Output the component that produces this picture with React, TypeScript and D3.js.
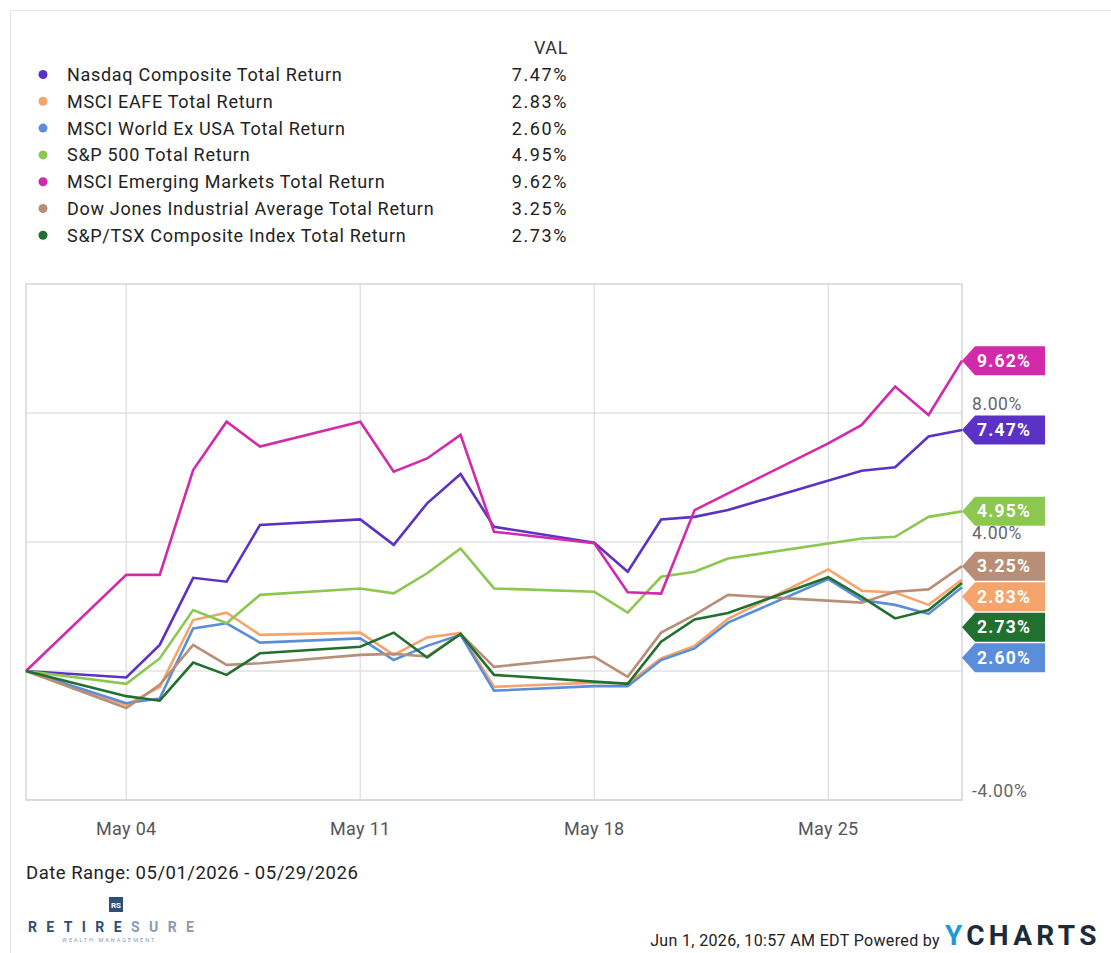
import React from "react";
import * as d3 from "d3";

const dates = [
  "2026-05-01", "2026-05-04", "2026-05-05", "2026-05-06", "2026-05-07", "2026-05-08",
  "2026-05-11", "2026-05-12", "2026-05-13", "2026-05-14", "2026-05-15",
  "2026-05-18", "2026-05-19", "2026-05-20", "2026-05-21", "2026-05-22",
  "2026-05-25", "2026-05-26", "2026-05-27", "2026-05-28", "2026-05-29",
];

const seriesNames = [
  "Nasdaq Composite Total Return",
  "MSCI EAFE Total Return",
  "MSCI World Ex USA Total Return",
  "S&P 500 Total Return",
  "MSCI Emerging Markets Total Return",
  "Dow Jones Industrial Average Total Return",
  "S&P/TSX Composite Index Total Return",
];

const seriesColors = ["#5b31c6", "#f5a46c", "#5a8edb", "#8cc74f", "#d22aab", "#b88f76", "#21702f"];

// null = no trading that day (holiday), line is drawn straight across
const nasdaq = [0, -0.2, 0.81, 2.89, 2.77, 4.53, 4.7, 3.91, 5.2, 6.11, 4.47, 3.98, 3.08, 4.7, 4.78, 4.99, null, 6.21, 6.32, 7.27, 7.47];
const eafe = [0, -1.05, -0.5, 1.58, 1.81, 1.12, 1.19, 0.5, 1.04, 1.18, -0.49, -0.36, -0.38, 0.39, 0.78, 1.62, 3.15, 2.49, 2.43, 2.05, 2.83];
const worldExUsa = [0, -1.0, -0.85, 1.32, 1.48, 0.88, 1.01, 0.34, 0.78, 1.12, -0.61, -0.47, -0.47, 0.34, 0.7, 1.5, 2.85, 2.2, 2.05, 1.77, 2.6];
const sp500 = [0, -0.4, 0.39, 1.89, 1.48, 2.36, 2.56, 2.41, 3.03, 3.8, 2.56, 2.46, 1.81, 2.92, 3.08, 3.49, null, 4.11, 4.16, 4.78, 4.95];
const emerging = [0, 2.98, 2.98, 6.23, 7.73, 6.96, 7.73, 6.18, 6.59, 7.32, 4.32, 3.96, 2.44, 2.4, 4.99, 5.51, 7.06, 7.63, 8.82, 7.94, 9.62];
const dow = [0, -1.15, -0.43, 0.81, 0.19, 0.24, 0.5, 0.53, 0.45, 1.15, 0.13, 0.44, -0.18, 1.19, 1.74, 2.36, null, 2.12, 2.46, 2.53, 3.25];
const tsx = [0, -0.78, -0.92, 0.26, -0.12, 0.55, 0.75, 1.19, 0.42, 1.15, -0.12, null, -0.4, 0.91, 1.6, 1.8, 2.91, 2.3, 1.63, 1.89, 2.73];

const seriesValues = [nasdaq, eafe, worldExUsa, sp500, emerging, dow, tsx];

const yGrid = [-4, 0, 4, 8];
const yLabels = [-4, 4, 8]; // 0.00% sits under the 2.60% tag in the original
const xTicks = ["2026-05-04", "2026-05-11", "2026-05-18", "2026-05-25"];

const FONT = "Roboto, 'Noto Sans', sans-serif";

export default function App() {
  const W = 1111;
  const H = 953;
  const left = 26, right = 962, top = 284, bottom = 800;
  const parse = d3.utcParse("%Y-%m-%d");
  const x = d3.scaleUtc()
    .domain([parse(dates[0])!, parse(dates[dates.length - 1])!])
    .range([left, right]);
  const y = d3.scaleLinear().domain([-4, 12]).range([bottom, top]);
  const fmtX = d3.utcFormat("%b %d");
  const fmtPct = (v: number) => v.toFixed(2) + "%";

  const line = d3.line<[Date, number]>().x(d => x(d[0])).y(d => y(d[1]));

  const series = seriesNames.map((name, i) => {
    const vals = seriesValues[i];
    const pts = dates
      .map((d, j) => [parse(d)!, vals[j]] as [Date, number | null])
      .filter(p => p[1] != null) as [Date, number][];
    return { name, color: seriesColors[i], pts, last: pts[pts.length - 1][1] };
  });

  // end-of-line tags, pushed down so they do not overlap
  const tagH = 29;
  const order = series.map((s, i) => i).sort((a, b) => series[b].last - series[a].last);
  const tagY: number[] = [];
  let prev = -Infinity;
  order.forEach(i => {
    const want = y(series[i].last);
    const cy = Math.max(want, prev + tagH + 1.5);
    tagY[i] = cy;
    prev = cy;
  });

  const rowY = (i: number) => 75 + i * 26.8;

  return (
    <svg width={W} height={H} style={{ position: "absolute", left: 0, top: 0, background: "#fff" }} fontFamily={FONT}>
      {/* page border */}
      <line x1={10} y1={10.5} x2={W} y2={10.5} stroke="#e4e4e4" />
      <line x1={10.5} y1={10} x2={10.5} y2={H} stroke="#e4e4e4" />

      {/* legend */}
      <text x={568} y={54} textAnchor="end" fontSize={18} fill="#333" letterSpacing={0.6}>VAL</text>
      {series.map((s, i) => (
        <g key={s.name}>
          <circle cx={43} cy={rowY(i) - 0.5} r={4.5} fill={s.color} />
          <text x={67} y={rowY(i) + 6} fontSize={18} fill="#222" letterSpacing={0.7}>{s.name}</text>
          <text x={568} y={rowY(i) + 6} fontSize={18} fill="#222" textAnchor="end" letterSpacing={1.6}>{fmtPct(s.last)}</text>
        </g>
      ))}

      {/* grid */}
      {yGrid.map(t => (
        <line key={"gy" + t} x1={left} x2={right} y1={y(t)} y2={y(t)} stroke="#e2e2e2" strokeWidth={1.5} />
      ))}
      {xTicks.map(t => (
        <line key={"gx" + t} x1={x(parse(t)!)} x2={x(parse(t)!)} y1={top} y2={bottom} stroke="#e2e2e2" strokeWidth={1.5} />
      ))}
      <rect x={left} y={top} width={right - left} height={bottom - top} fill="none" stroke="#d6d6d6" strokeWidth={1.5} />

      {/* y labels */}
      {yLabels.map(t => (
        <text key={"ly" + t} x={972} y={y(t) - 3} fontSize={17.5} fill="#666" letterSpacing={0.6}>{fmtPct(t)}</text>
      ))}

      {/* x labels */}
      {xTicks.map(t => (
        <text key={"lx" + t} x={x(parse(t)!)} y={835} textAnchor="middle" fontSize={18} fill="#555" letterSpacing={0.3}>{fmtX(parse(t)!)}</text>
      ))}

      {/* lines */}
      {series.map(s => (
        <path key={"l" + s.name} d={line(s.pts) || ""} fill="none" stroke={s.color} strokeWidth={2.6} />
      ))}

      {/* tags */}
      {series.map((s, i) => {
        const cy = tagY[i];
        const h = tagH / 2;
        const p = `M${right},${cy} L${right + 13},${cy - h} L1045,${cy - h} L1045,${cy + h} L${right + 13},${cy + h} Z`;
        return (
          <g key={"t" + s.name}>
            <path d={p} fill={s.color} />
            <text x={1004} y={cy + 6} textAnchor="middle" fontSize={17.5} fontWeight="bold" fill="#fff" letterSpacing={1.2}>
              {fmtPct(s.last)}
            </text>
          </g>
        );
      })}

      {/* footer */}
      <text x={26} y={879} fontSize={18.5} fill="#222" letterSpacing={0.5}>Date Range: 05/01/2026 - 05/29/2026</text>

      <rect x={109} y={897} width={14} height={15} fill="#2d4f78" />
      <text x={116} y={908} fontSize={8} fontWeight="bold" fill="#fff" textAnchor="middle">RS</text>
      <text x={28} y={932} fontSize={14} fontWeight="bold" letterSpacing={9.4}>
        <tspan fill="#2d4f78">RETIRE</tspan>
        <tspan fill="#8a9bb0">SURE</tspan>
      </text>
      <text x={62} y={942} fontSize={5.5} fill="#8a9bb0" letterSpacing={2}>WEALTH MANAGEMENT</text>

      <text x={940} y={946} fontSize={16} fill="#222" textAnchor="end" letterSpacing={0.35}>Jun 1, 2026, 10:57 AM EDT Powered by</text>
      <text x={945} y={945} fontSize={28} fontWeight="bold" letterSpacing={4.3}>
        <tspan fill="#1e9ad8">Y</tspan>
        <tspan fill="#1c2b3a">CHARTS</tspan>
      </text>
    </svg>
  );
}
